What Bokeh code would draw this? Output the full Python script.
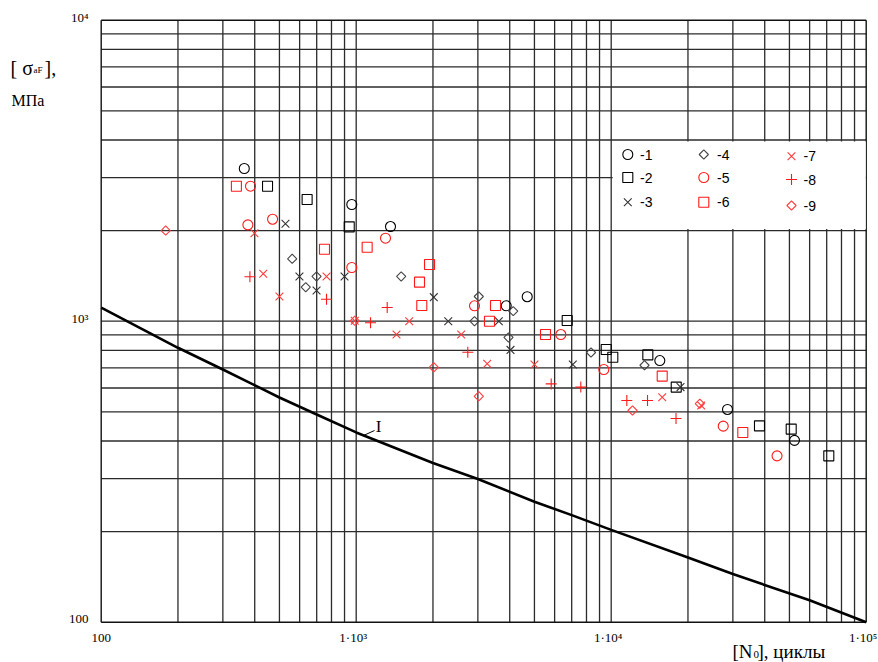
import numpy as np
from bokeh.plotting import figure
from bokeh.models import Range1d, Label
from bokeh.embed import file_html
from bokeh.resources import INLINE

# ---- data (N0 cycles, sigma MPa) ----
n1 = [364, 961, 1363, 4684, 3875, 15510, 28580, 52340]
s1 = [3216, 2442, 2063, 1206, 1125, 740, 509, 402]

n2 = [449, 642, 939, 6722, 9560, 10146, 13920, 17990, 38150, 50800, 71340]
s2 = [2809, 2537, 2058, 1005, 805, 759, 773, 604, 449, 438, 357]

n3 = [528, 599, 699, 900, 2015, 2296, 3625, 4028, 7069, 18700]
s3 = [2106, 1408, 1265, 1408, 1202, 1000, 1000, 803, 718, 604]

n4 = [561, 634, 699, 1501, 3025, 2910, 4128, 3956, 8332, 13510]
s4 = [1612, 1297, 1408, 1408, 1208, 1000, 1080, 883, 787, 714]

n5 = [385, 376, 470, 961, 1303, 2910, 6345, 9355, 27500, 44700]
s5 = [2809, 2090, 2182, 1508, 1887, 1125, 903, 691, 448, 357]

n6 = [339, 751, 1104, 1939, 1771, 1808, 3518, 3332, 5526, 15850, 32820]
s6 = [2809, 1734, 1761, 1543, 1348, 1128, 1128, 1000, 903, 657, 427]

n7 = [399, 432, 500, 765, 987, 1614, 1439, 2581, 3264, 5002, 15850, 22540]
s7 = [1960, 1437, 1208, 1408, 1003, 1000, 903, 903, 722, 718, 559, 525]

n8 = [383, 765, 1323, 1138, 2739, 5818, 7600, 11514, 13880, 17955]
s8 = [1405, 1183, 1111, 988, 789, 619, 604, 545, 545, 475]

n9 = [179, 987, 2015, 3025, 12120, 22260]
s9 = [2001, 1003, 703, 563, 505, 532]

curve_n = [100, 200, 300, 500, 700, 1000, 2000, 3000, 5000, 7000, 10000, 20000, 30000, 60000, 100000]
curve_s = [1110, 816, 691, 558, 490, 427, 338, 299, 251.4, 226.8, 202.6, 164, 144.5, 118.3, 100]

series_labels = ["-1", "-2", "-3", "-4", "-5", "-6", "-7", "-8", "-9"]

x_ticks = [100, 1000, 10000, 100000]
x_tick_labels = ["100", "1·10³", "1·10⁴", "1·10⁵"]
y_ticks = [100, 1000, 10000]
y_tick_labels = ["100", "10³", "10⁴"]

SERIF = "Liberation Serif"
SANS = "Liberation Sans"

W, H = 878, 662

# canvas-pixel -> data helpers (used only to place annotations and set the view)
def N_at(rx):
    return 10 ** (2 + (rx - 100.7) / 255.0)

def S_at(ry):
    return 10 ** (2 + (621.7 - ry) / 301.0)

p = figure(width=W, height=H, x_axis_type="log", y_axis_type="log",
           x_range=Range1d(N_at(0), N_at(W)), y_range=Range1d(S_at(H), S_at(0)),
           output_backend="svg", toolbar_location=None,
           min_border_left=0, min_border_right=0, min_border_top=0, min_border_bottom=0,
           background_fill_color="white", border_fill_color="white")
p.axis.visible = False
p.grid.visible = False
p.outline_line_color = None

XMIN, XMAX, YMIN, YMAX = 100, 100000, 100, 10000

# ---- grid ----
vx = [k * 10 ** d for d in (2, 3, 4) for k in range(1, 10)][1:]
p.segment(x0=vx, x1=vx, y0=[YMIN] * len(vx), y1=[YMAX] * len(vx),
          line_color="#2b2b2b", line_width=1.3)
hy = [k * 10 ** d for d in (2, 3) for k in range(1, 10)][1:]
p.segment(x0=[XMIN] * len(hy), x1=[XMAX] * len(hy), y0=hy, y1=hy,
          line_color="#2b2b2b", line_width=1.3)
# frame
p.segment(x0=[XMIN, XMIN, XMIN, XMAX], x1=[XMAX, XMIN, XMAX, XMAX],
          y0=[YMIN, YMIN, YMAX, YMIN], y1=[YMIN, YMAX, YMAX, YMAX],
          line_color="#111111", line_width=1.4)

# white legend area
p.quad(left=[10000 * 1.013], right=[XMAX / 1.004], bottom=[2000 * 1.012], top=[4000 / 1.012],
       fill_color="white", line_color=None)

# ---- curve I ----
p.line(curve_n, curve_s, line_color="black", line_width=2.6)
p.line([N_at(363), N_at(374)], [S_at(435), S_at(430)], line_color="black", line_width=1)
p.add_layout(Label(x=N_at(378), y=S_at(426), text="I", text_font=SERIF, text_font_size="17px",
                   text_align="center", text_baseline="middle", text_color="black"))

# ---- markers ----
RED = "#ff1a1a"
specs = [
    (n1, s1, "circle", 10, "black", 0),
    (n2, s2, "square", 10, "black", 0),
    (n3, s3, "x", 11, "#333333", 0),
    (n4, s4, "square", 6.5, "#444444", np.pi / 4),
    (n5, s5, "circle", 10, RED, 0),
    (n6, s6, "square", 10, RED, 0),
    (n7, s7, "x", 11, "#ff3b3b", 0),
    (n8, s8, "cross", 11, RED, 0),
    (n9, s9, "square", 6.5, "#ff3b3b", np.pi / 4),
]
for xs, ys, mk, sz, col, ang in specs:
    p.scatter(xs, ys, marker=mk, size=sz, line_color=col, fill_color=None,
              line_width=1.1, angle=ang)

# ---- legend (3 columns x 3 rows) ----
col_glyph_x = [627.3, 703.3, 791.0]
col_text_x = [639.5, 716.5, 803.0]
col_rows_y = [[154, 177, 201.7], [154, 177, 201.7], [155.7, 179, 205]]
for i, (xs, ys, mk, sz, col, ang) in enumerate(specs):
    c, r = divmod(i, 3)
    gy = col_rows_y[c][r]
    p.scatter([N_at(col_glyph_x[c])], [S_at(gy)], marker=mk, size=sz, line_color=col,
              fill_color=None, line_width=1.1, angle=ang)
    p.add_layout(Label(x=N_at(col_text_x[c]), y=S_at(gy), text=series_labels[i],
                       text_align="left", text_baseline="middle",
                       text_font=SANS, text_font_size="14px", text_color="black"))

# ---- tick labels ----
for t, s in zip(x_ticks, x_tick_labels):
    p.add_layout(Label(x=t, y=S_at(637), text=s, x_offset=(0 if t == 100 else -3),
                       text_align="center", text_baseline="middle",
                       text_font=SERIF, text_font_size="13px", text_color="black"))
for t, s in zip(y_ticks, y_tick_labels):
    p.add_layout(Label(x=N_at(88), y=t, text=s, y_offset=3,
                       text_align="right", text_baseline="middle",
                       text_font=SERIF, text_font_size="13px", text_color="black"))

# ---- axis titles ----
def lab(text, rx, ry, size):
    p.add_layout(Label(x=N_at(rx), y=S_at(ry), text=text,
                       text_font=SERIF, text_font_size=size, text_color="black",
                       text_baseline="middle", text_align="left"))

lab("[ σ", 10, 67, "20px")
lab("aF", 33, 69, "9px")
lab("],", 44, 67, "20px")
lab("МПа", 11, 100, "16px")

lab("[N", 732, 651, "19px")
lab("0", 753, 654, "11px")
lab(" ], циклы", 757, 651, "19px")

open("out.html", "w").write(file_html(p, INLINE))
